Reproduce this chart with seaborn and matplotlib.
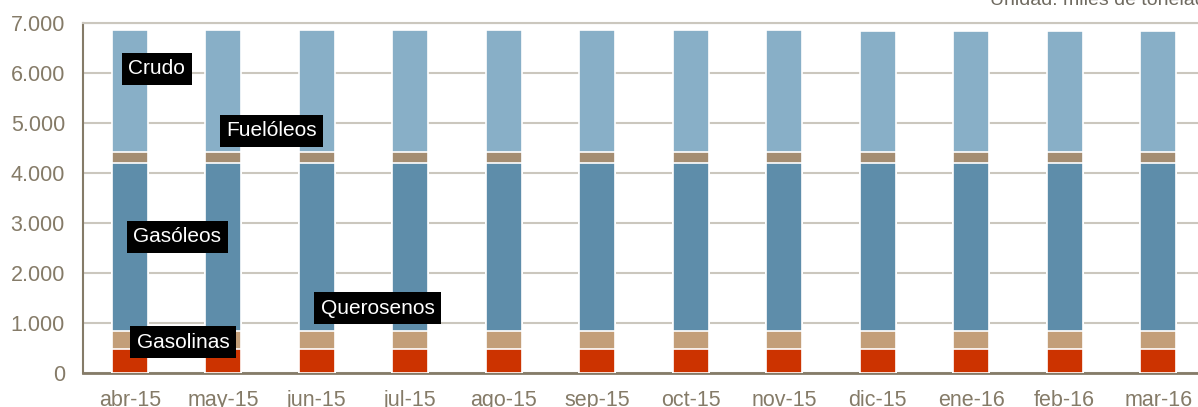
import pandas as pd
import matplotlib
matplotlib.use("Agg")
import matplotlib.pyplot as plt
import seaborn as sns

meses = ["abr-15", "may-15", "jun-15", "jul-15", "ago-15", "sep-15",
         "oct-15", "nov-15", "dic-15", "ene-16", "feb-16", "mar-16"]
gasolinas = [485, 485, 485, 485, 485, 485, 485, 485, 485, 485, 485, 485]
querosenos = [350, 350, 350, 350, 350, 350, 350, 350, 350, 350, 350, 350]
gasoleos = [3375, 3375, 3375, 3375, 3375, 3375, 3375, 3375, 3375, 3375, 3375, 3375]
fueloleos = [220, 220, 220, 220, 220, 220, 220, 220, 220, 220, 220, 220]
crudo = [2430, 2430, 2430, 2430, 2430, 2430, 2430, 2430, 2410, 2410, 2410, 2410]

series = ["Gasolinas", "Querosenos", "Gasóleos", "Fuelóleos", "Crudo"]
colores = ["#CC3300", "#C39E78", "#5E8DAA", "#A48D72", "#88AFC7"]

df = pd.DataFrame({"mes": meses, "Gasolinas": gasolinas, "Querosenos": querosenos,
                   "Gasóleos": gasoleos, "Fuelóleos": fueloleos, "Crudo": crudo})

# acumulado para apilar (se dibuja de mayor a menor)
acum = df[series].cumsum(axis=1)

sns.set_style("white")
plt.rcParams["font.family"] = ["Liberation Sans", "DejaVu Sans"]

fig = plt.figure(figsize=(11.98, 4.07), dpi=100)
ax = fig.add_axes([83 / 1198, 34 / 407, 1122 / 1198, 350 / 407])

for s, c in reversed(list(zip(series, colores))):
    sns.barplot(x=df["mes"], y=acum[s], color=c, width=0.38, ax=ax,
                edgecolor="white", linewidth=1.2, saturation=1, zorder=3)

ax.set_ylim(0, 7000)
ax.set_xlim(-0.5, 11.5)
ax.set_yticks(range(0, 7001, 1000))
ax.set_yticklabels(["0", "1.000", "2.000", "3.000", "4.000", "5.000", "6.000", "7.000"])
ax.yaxis.grid(True, color="#CBC7BE", linewidth=1.5, zorder=0)
ax.set_axisbelow(True)
ax.set_xlabel("")
ax.set_ylabel("")

ax.spines["right"].set_visible(False)
ax.spines["top"].set_color("#CBC7BE")
ax.spines["top"].set_linewidth(1.5)
ax.spines["left"].set_color("#857B68")
ax.spines["bottom"].set_color("#857B68")
ax.spines["left"].set_linewidth(1.5)
ax.spines["bottom"].set_linewidth(2)

ax.tick_params(axis="y", length=0, pad=13, labelsize=15.5, labelcolor="#857B68")
ax.tick_params(axis="x", length=0, pad=12, labelsize=15.5, labelcolor="#857B68")

etiquetas = {"Crudo": (0.29, 6080), "Fuelóleos": (1.52, 4840), "Gasóleos": (0.51, 2720),
             "Querosenos": (2.65, 1300), "Gasolinas": (0.57, 620)}
for txt, (x, y) in etiquetas.items():
    ax.text(x, y, txt, color="white", fontsize=15, ha="center", va="center", zorder=5,
            bbox=dict(boxstyle="square,pad=0.3", fc="black", ec="none"))

fig.text(990 / 1198, 1 - 5 / 407, "Unidad: miles de toneladas", fontsize=14,
         color="#6F6A60", ha="left", va="baseline")

fig.savefig("out.png", dpi=100)
